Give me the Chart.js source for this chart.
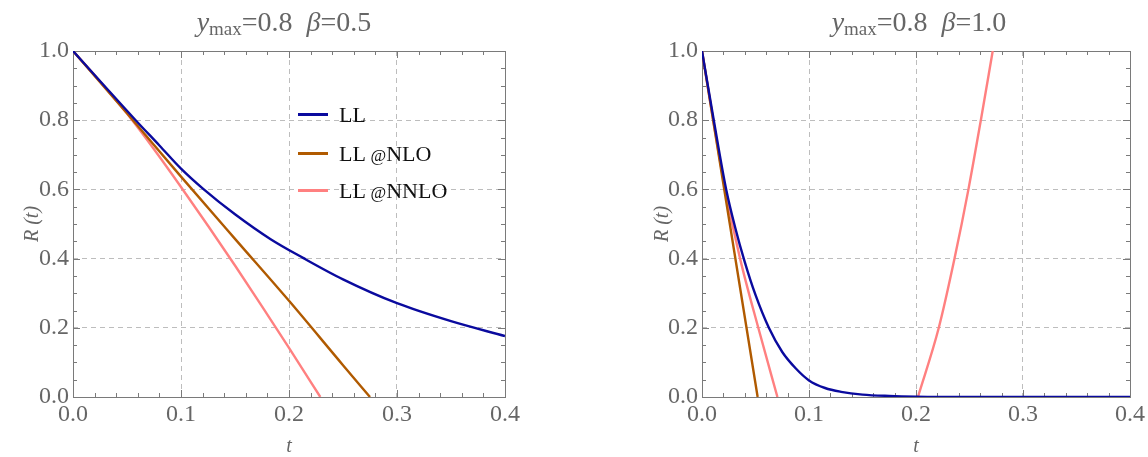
<!DOCTYPE html>
<html>
<head>
<meta charset="utf-8">
<script src="https://cdn.jsdelivr.net/npm/chart.js@4"></script>
<style>
  html, body { margin: 0; padding: 0; background: #fff; }
  #wrap { position: relative; width: 1148px; height: 457px; overflow: hidden; }
  canvas { position: absolute; top: 0; }
  .ttl { position: absolute; top: 5px; font-family: 'Liberation Serif', serif; font-size: 28px;
         color: #666; white-space: pre; transform: translateX(-50%); line-height: 34px; }
  .ttl sub { font-size: 19px; vertical-align: -4px; line-height: 0; }
  .leg { position: absolute; left: 298px; font-family: 'Liberation Serif', serif; font-size: 22px;
         color: #111; line-height: 22px; white-space: pre; }
  .leg span.ln { position: absolute; left: 0; width: 30px; height: 3px; top: 9px; }
  .leg span.tx { position: absolute; left: 41px; top: 0; }
  .leg small { font-size: 17px; }
</style>
</head>
<body>
<div id="wrap">
  <canvas id="left" width="574" height="457" style="left:0"></canvas>
  <canvas id="right" width="574" height="457" style="left:574px"></canvas>
  <div class="ttl" style="left:284px"><i>y</i><sub>max</sub>=0.8  <i>β</i>=0.5</div>
  <div class="ttl" style="left:919px"><i>y</i><sub>max</sub>=0.8  <i>β</i>=1.0</div>
  <div class="leg" style="top:104px"><span class="ln" style="background:#0a0a9e"></span><span class="tx">LL</span></div>
  <div class="leg" style="top:143px"><span class="ln" style="background:#b05a00"></span><span class="tx">LL <small>@</small>NLO</span></div>
  <div class="leg" style="top:180px"><span class="ln" style="background:#ff8080"></span><span class="tx">LL <small>@</small>NNLO</span></div>
</div>
<script>
// ---- данные ----
// левая панель (beta = 0.5)
const tLeftLL   = [0, 0.03, 0.058, 0.08, 0.1, 0.12, 0.15, 0.183, 0.213, 0.25, 0.3, 0.35, 0.4];
const rLeftLL   = [1, 0.896, 0.8, 0.727, 0.66, 0.603, 0.528, 0.456, 0.402, 0.34, 0.271, 0.219, 0.176];
const tLeftNLO  = [0, 0.05, 0.1, 0.15, 0.2, 0.25, 0.275];
const rLeftNLO  = [1, 0.82, 0.637, 0.457, 0.278, 0.092, 0];
const tLeftNNLO = [0, 0.025, 0.05, 0.075, 0.1, 0.125, 0.15, 0.175, 0.2, 0.229];
const rLeftNNLO = [1, 0.912, 0.819, 0.716, 0.607, 0.495, 0.38, 0.262, 0.142, 0];

// правая панель (beta = 1.0)
const tRightLL   = [0, 0.011, 0.0226, 0.031, 0.04, 0.05, 0.0625, 0.075, 0.0875, 0.1, 0.115, 0.13, 0.15, 0.175, 0.2, 0.25, 0.3, 0.4];
const rRightLL   = [1, 0.8, 0.6, 0.49, 0.39, 0.295, 0.2, 0.13, 0.083, 0.048, 0.026, 0.015, 0.007, 0.003, 0.001, 0, 0, 0];
const tRightNLO  = [0, 0.026, 0.052];
const rRightNLO  = [1, 0.5, 0];
// null = разрыв (кривая уходит ниже нуля)
const tRightNNLO = [0, 0.0105, 0.0217, 0.0356, 0.0526, 0.0705, 0.13, 0.2018, 0.2213, 0.236, 0.249, 0.2606, 0.2717];
const rRightNNLO = [1, 0.8, 0.6, 0.4, 0.2, 0, null, 0, 0.2, 0.4, 0.6, 0.8, 1.0];

const xTicks = [0, 0.1, 0.2, 0.3, 0.4];
const yTicks = [0, 0.2, 0.4, 0.6, 0.8, 1.0];
const seriesNames = ['LL', 'LL@NLO', 'LL@NNLO'];

const colLL = '#0a0a9e';
const colNLO = '#b05a00';
const colNNLO = '#ff8080';
const gray = '#666';
const serif = "'Liberation Serif', 'DejaVu Serif', serif";

function pts(t, r) {
    return t.map((x, i) => ({ x: x, y: r[i] }));
}

// рамка с внутренними засечками, как в Mathematica
const framePlugin = {
    id: 'frame',
    beforeDatasetsDraw(chart) {
        const { ctx, chartArea: a, scales } = chart;
        const xs = scales.x, ys = scales.y;
        ctx.save();
        ctx.strokeStyle = '#7a7a7a';
        ctx.lineWidth = 1;
        ctx.beginPath();
        for (let i = 0; i <= 20; i++) {
            const px = Math.round(xs.getPixelForValue(i * 0.02)) + 0.5;
            const len = i % 5 === 0 ? 7 : 4;
            ctx.moveTo(px, a.bottom); ctx.lineTo(px, a.bottom - len);
            ctx.moveTo(px, a.top); ctx.lineTo(px, a.top + len);
        }
        for (let i = 0; i <= 20; i++) {
            const py = Math.round(ys.getPixelForValue(i * 0.05)) + 0.5;
            const len = i % 4 === 0 ? 7 : 4;
            ctx.moveTo(a.left, py); ctx.lineTo(a.left + len, py);
            ctx.moveTo(a.right, py); ctx.lineTo(a.right - len, py);
        }
        ctx.stroke();
        ctx.strokeRect(Math.round(a.left) + 0.5, Math.round(a.top) + 0.5,
                       Math.round(a.right - a.left), Math.round(a.bottom - a.top));
        ctx.restore();
    }
};

function makeChart(id, ll, nlo, nnlo, yAxisWidth, yTitlePad, padRight) {
    const ctx = document.getElementById(id).getContext('2d');
    const ds = (label, data, color) => ({
        label: label,
        data: data,
        borderColor: color,
        backgroundColor: color,
        borderWidth: 2.4,
        pointRadius: 0,
        fill: false,
        cubicInterpolationMode: 'monotone',
        spanGaps: false
    });
    return new Chart(ctx, {
        type: 'line',
        data: {
            datasets: [
                ds(seriesNames[0], ll, colLL),
                ds(seriesNames[1], nlo, colNLO),
                ds(seriesNames[2], nnlo, colNNLO)
            ]
        },
        options: {
            responsive: false,
            animation: false,
            events: [],
            layout: { padding: { top: 51, left: 0, right: padRight, bottom: 0 } },
            plugins: { legend: { display: false }, tooltip: { enabled: false } },
            scales: {
                x: {
                    type: 'linear', min: 0, max: 0.4,
                    afterBuildTicks: s => { s.ticks = xTicks.map(v => ({ value: v })); },
                    afterFit: s => { s.height = 60; },
                    ticks: {
                        callback: v => v.toFixed(1),
                        color: gray, padding: 3,
                        font: { family: serif, size: 24, lineHeight: 1.2 },
                        maxRotation: 0
                    },
                    grid: {
                        drawTicks: false,
                        color: c => (c.tick && (c.tick.value === 0 || c.tick.value === 0.4)) ? 'rgba(0,0,0,0)' : '#bdbdbd'
                    },
                    border: { display: false, dash: [5, 4] },
                    title: {
                        display: true, text: 't', color: gray,
                        font: { family: serif, size: 20, style: 'italic', lineHeight: 1 },
                        padding: { top: 0, bottom: 0 }
                    }
                },
                y: {
                    type: 'linear', min: 0, max: 1,
                    afterBuildTicks: s => { s.ticks = yTicks.map(v => ({ value: v })); },
                    afterFit: s => { s.width = yAxisWidth; },
                    ticks: {
                        callback: v => v.toFixed(1),
                        color: gray, padding: 4,
                        font: { family: serif, size: 24, lineHeight: 1.2 }
                    },
                    grid: {
                        drawTicks: false,
                        color: c => (c.tick && (c.tick.value === 0 || c.tick.value === 1)) ? 'rgba(0,0,0,0)' : '#bdbdbd'
                    },
                    border: { display: false, dash: [5, 4] },
                    title: {
                        display: true, text: 'R (t)', color: gray,
                        font: { family: serif, size: 20, style: 'italic', lineHeight: 1 },
                        padding: { top: yTitlePad, bottom: 0 }
                    }
                }
            }
        },
        plugins: [framePlugin]
    });
}

makeChart('left', pts(tLeftLL, rLeftLL), pts(tLeftNLO, rLeftNLO), pts(tLeftNNLO, rLeftNNLO), 73, 23, 69);
makeChart('right', pts(tRightLL, rRightLL), pts(tRightNLO, rRightNLO), pts(tRightNNLO, rRightNNLO), 128, 79, 16);
</script>
</body>
</html>
